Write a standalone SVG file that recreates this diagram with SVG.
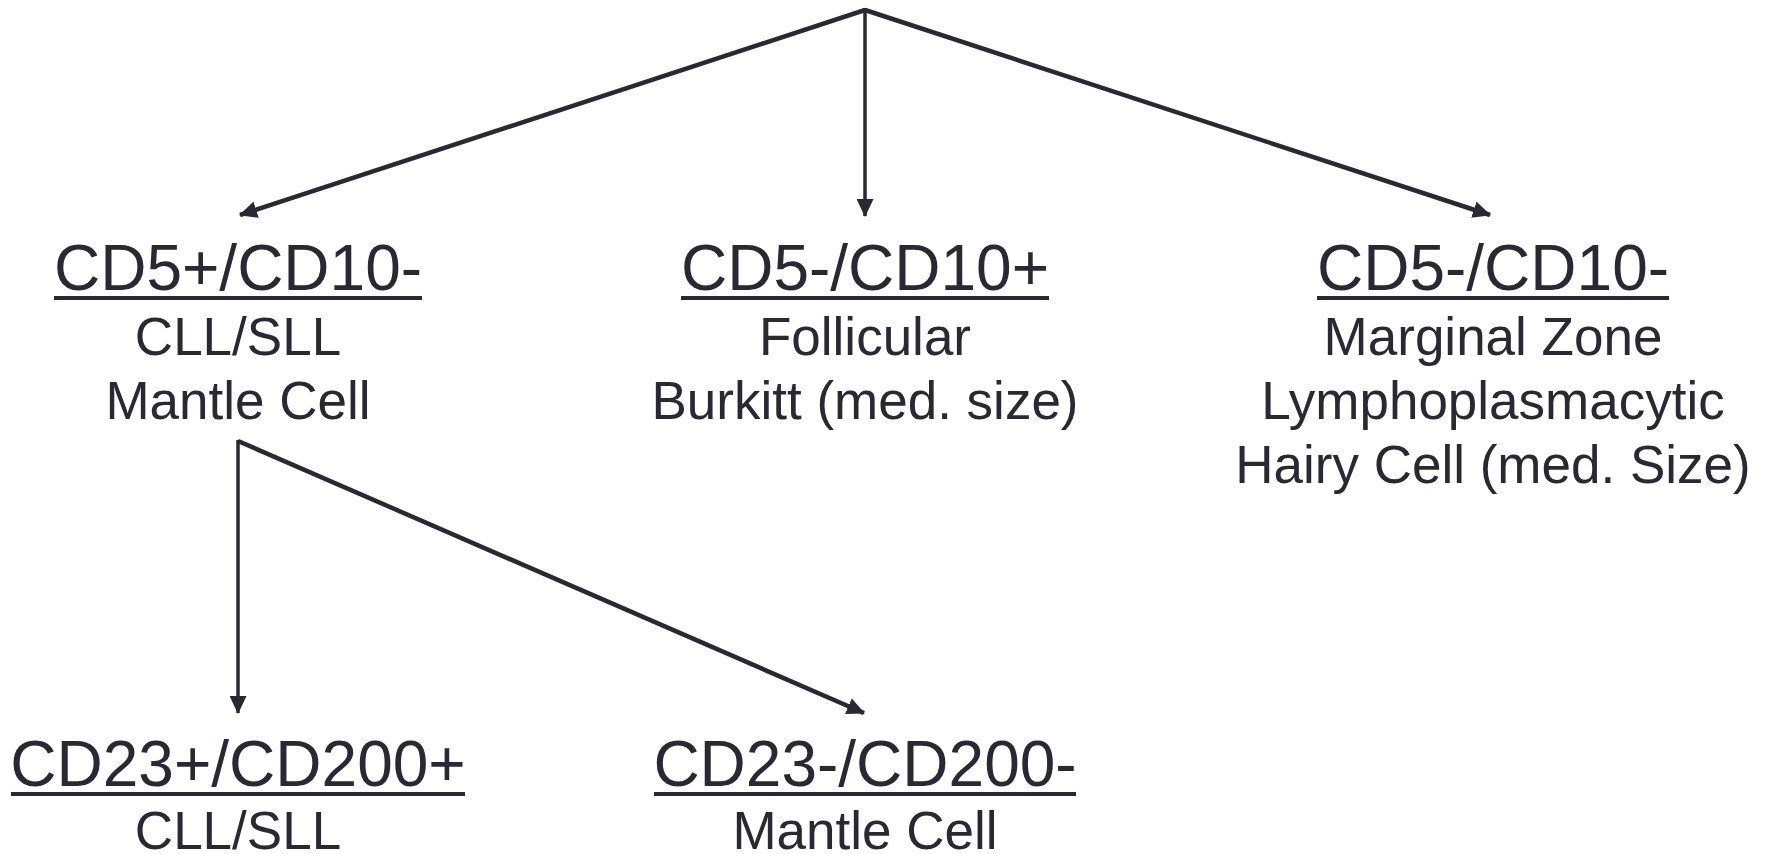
<svg xmlns="http://www.w3.org/2000/svg" width="1770" height="854" viewBox="0 0 1770 854">
<style>
.hd{font-family:"Liberation Sans",Arial,sans-serif;font-size:64px;fill:#292833;text-anchor:middle}
.sb{font-family:"Liberation Sans",Arial,sans-serif;font-size:53px;fill:#292833;text-anchor:middle}
.ul{stroke:#292833;stroke-width:4}
.conn{stroke:#292833;stroke-width:4.5;fill:none;marker-end:url(#ah)}
.thin{stroke-width:3.5}
</style>
<defs>
<marker id="ah" markerUnits="userSpaceOnUse" markerWidth="19" markerHeight="17" refX="17" refY="8.5" orient="auto" viewBox="0 0 19 17">
<path d="M0,0 L18,8.5 L0,17 z" fill="#292833"/>
</marker>
</defs>
<rect width="1770" height="854" fill="#ffffff"/>
<g id="connectors">
<path class="conn" d="M865,10 L240,215"/>
<path class="conn thin" d="M865,8 L865,216"/>
<path class="conn" d="M865,10 L1490,215"/>
<path class="conn thin" d="M238,440 L238,713"/>
<path class="conn" d="M238,441 L864,713"/>
</g>
<g id="n-cd5pos">
<text class="hd" x="238" y="290">CD5+/CD10-</text>
<line class="ul" x1="54" y1="298" x2="422" y2="298"/>
<text class="sb" x="238" y="355">CLL/SLL</text>
<text class="sb" x="238" y="419">Mantle Cell</text>
</g>
<g id="n-cd10pos">
<text class="hd" x="865" y="290">CD5-/CD10+</text>
<line class="ul" x1="681" y1="298" x2="1049" y2="298"/>
<text class="sb" x="865" y="355">Follicular</text>
<text class="sb" x="865" y="419">Burkitt (med. size)</text>
</g>
<g id="n-dn">
<text class="hd" x="1493" y="290">CD5-/CD10-</text>
<line class="ul" x1="1317" y1="298" x2="1669" y2="298"/>
<text class="sb" x="1493" y="355">Marginal Zone</text>
<text class="sb" x="1493" y="419">Lymphoplasmacytic</text>
<text class="sb" x="1493" y="483">Hairy Cell (med. Size)</text>
</g>
<g id="n-cd23pos">
<text class="hd" x="238" y="786">CD23+/CD200+</text>
<line class="ul" x1="11" y1="794" x2="465" y2="794"/>
<text class="sb" x="238" y="849">CLL/SLL</text>
</g>
<g id="n-cd23neg">
<text class="hd" x="865" y="786">CD23-/CD200-</text>
<line class="ul" x1="654" y1="794" x2="1076" y2="794"/>
<text class="sb" x="865" y="849">Mantle Cell</text>
</g>
</svg>
